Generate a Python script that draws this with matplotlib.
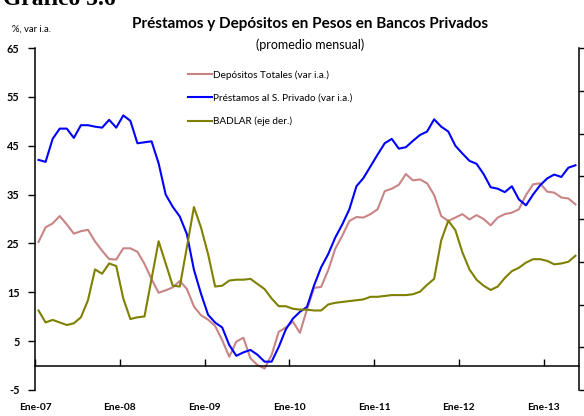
import matplotlib
matplotlib.use("Agg")
import matplotlib.pyplot as plt

plt.rcParams['font.family'] = ['Lato', 'DejaVu Sans']
plt.rcParams['axes.unicode_minus'] = False

# monthly data, Jan-07 .. May-13
year_labels = ['Ene-07', 'Ene-08', 'Ene-09', 'Ene-10', 'Ene-11', 'Ene-12', 'Ene-13']

depositos = [25.3, 28.3, 29.1, 30.6, 28.9, 27.0, 27.5, 27.8, 25.4, 23.5, 21.8, 21.7,
             24.0, 24.0, 23.3, 20.8, 17.7, 14.9, 15.4, 16.0, 17.3, 15.7, 12.1, 10.3,
             9.4, 8.1, 5.2, 1.8, 4.9, 5.7, 1.5, 0.1, -0.6, 2.2, 6.9, 7.8,
             9.0, 6.7, 11.5, 15.9, 16.1, 19.5, 23.9, 26.6, 29.6, 30.4, 30.3, 31.0,
             32.0, 35.7, 36.2, 37.0, 39.2, 37.9, 38.1, 37.3, 34.9, 30.6, 29.6, 30.3,
             31.0, 29.9, 30.8, 30.0, 28.7, 30.3, 31.0, 31.3, 32.0, 34.9, 37.1, 37.3,
             35.6, 35.4, 34.4, 34.2, 33.0]

prestamos = [42.1, 41.7, 46.4, 48.5, 48.5, 46.6, 49.2, 49.2, 48.9, 48.7, 50.3, 48.7,
             51.2, 50.1, 45.5, 45.7, 45.9, 41.4, 35.0, 32.5, 30.5, 26.9, 19.6, 14.7,
             10.4, 8.8, 7.8, 4.2, 2.0, 2.7, 3.2, 2.2, 0.8, 0.8, 3.8, 7.4,
             9.6, 11.0, 12.0, 16.4, 20.1, 22.8, 26.2, 28.9, 32.0, 36.7, 38.4, 40.8,
             43.2, 45.5, 46.4, 44.4, 44.7, 46.0, 47.2, 47.9, 50.4, 48.9, 47.9, 45.0,
             43.4, 41.9, 41.3, 39.2, 36.5, 36.2, 35.5, 36.7, 34.0, 32.8, 35.0, 36.9,
             38.3, 39.1, 38.6, 40.5, 41.0]

# BADLAR, right axis (%)
badlar = [9.3, 7.9, 8.2, 7.9, 7.6, 7.8, 8.5, 10.5, 14.1, 13.6, 14.8, 14.5,
          10.7, 8.3, 8.5, 8.6, 13.0, 17.4, 14.8, 12.2, 12.1, 16.7, 21.4, 19.0,
          15.9, 12.1, 12.2, 12.8, 12.9, 12.9, 13.0, 12.4, 11.8, 10.7, 9.8, 9.8,
          9.5, 9.4, 9.4, 9.3, 9.3, 10.0, 10.2, 10.3, 10.4, 10.5, 10.6, 10.9,
          10.9, 11.0, 11.1, 11.1, 11.1, 11.2, 11.5, 12.3, 13.0, 17.5, 19.8, 18.7,
          16.1, 14.1, 12.9, 12.2, 11.7, 12.1, 13.1, 13.9, 14.3, 14.9, 15.3, 15.3,
          15.1, 14.7, 14.8, 15.0, 15.7]

x = list(range(len(prestamos)))

fig = plt.figure(figsize=(5.84, 4.16), dpi=100)
ax = fig.add_axes([0.0599, 0.0625, 0.9315, 0.8221])
ax2 = ax.twinx()

l1, = ax.plot(x, depositos, color='#C98585', lw=1.5)
l2, = ax.plot(x, prestamos, color='#0000FF', lw=1.5)
l3, = ax2.plot(x, badlar, color='#808000', lw=1.5)

ax.set_xlim(-0.5, 76.5)
ax.set_ylim(-5, 65)
ax.set_yticks(range(-5, 66, 10))
ax2.set_ylim(0, 40)
ax2.set_yticks(range(0, 41, 5))
ax2.set_yticklabels([])

for s in ['top', 'right']:
    ax.spines[s].set_visible(False)
for s in ['top', 'left', 'bottom']:
    ax2.spines[s].set_visible(False)
ax.spines['bottom'].set_position(('data', 0))
ax.spines['left'].set_linewidth(1.1)
ax.spines['bottom'].set_linewidth(1.1)
ax2.spines['right'].set_linewidth(1.1)

ax.set_xticks([-0.5 + 12 * k for k in range(len(year_labels))])
ax.set_xticklabels(year_labels, fontsize=7.3, fontweight='bold')
ax.tick_params(axis='x', direction='in', length=5, width=1, pad=27)
ax.tick_params(axis='y', direction='out', length=5, width=1, labelsize=7.8, pad=6)
for t in ax.get_yticklabels():
    t.set_fontweight('bold')
ax2.tick_params(axis='y', direction='out', length=4, width=1)

ax.legend([l1, l2, l3],
          ['Depósitos Totales (var i.a.)', 'Préstamos al S. Privado (var i.a.)', 'BADLAR (eje der.)'],
          loc='upper left', bbox_to_anchor=(0.281, 0.935), frameon=False, fontsize=7.2,
          handlelength=2.4, handletextpad=0.1, labelspacing=1.4, borderpad=0, borderaxespad=0)

fig.text(0.531, 1 - 24 / 416, 'Préstamos y Depósitos en Pesos en Bancos Privados',
         ha='center', va='center', fontsize=11, fontweight='bold')
fig.text(0.531, 1 - 45 / 416, '(promedio mensual)', ha='center', va='center', fontsize=9)
fig.text(0.02, 1 - 29 / 416, '%, var i.a.', ha='left', va='center', fontsize=6.8)
fig.text(0.005, 1 - 5 / 416, 'Gráfico 5.6', ha='left', va='baseline', fontsize=17,
         fontweight='bold', family='Liberation Serif')

fig.savefig('out.png', dpi=100)
